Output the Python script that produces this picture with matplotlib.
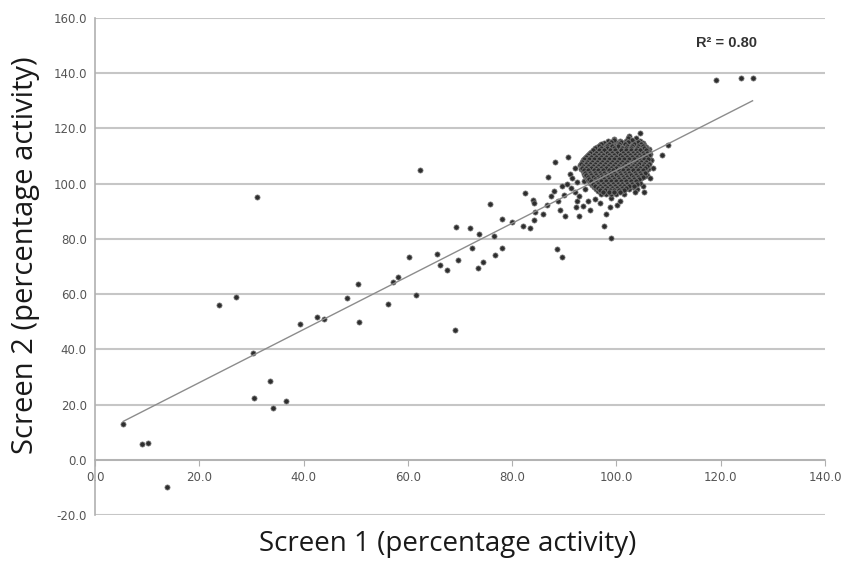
import numpy as np
import matplotlib
matplotlib.use("Agg")
import matplotlib.pyplot as plt

# scattered compounds outside the main cluster (screen 1, screen 2)
outlier_x = [5.4, 9.1, 10.1, 13.8, 23.7, 27.1, 30.3, 30.5, 31.1, 33.6, 34.1, 36.6,
             39.4, 42.5, 43.9, 48.3, 50.4, 50.7, 56.2, 57.2, 58.2, 60.3, 61.5, 62.3,
             65.5, 66.1, 67.5, 69.3, 69.1, 69.6, 72.0, 72.3, 73.5, 73.6, 74.5, 75.7,
             76.7, 76.6, 78.0, 78.0, 80.0, 82.1, 82.4, 83.4, 83.9, 84.2, 84.1, 84.4,
             86.0, 86.6, 86.8, 88.2, 88.6, 89.5, 89.1, 90.2, 90.7, 92.8, 92.4, 94.9,
             97.7, 97.9, 98.9, 98.7, 100.1, 105.2, 104.0, 105.8, 106.7, 108.8, 109.9,
             104.6, 119.0, 123.9, 126.1]
outlier_y = [12.8, 5.7, 6.1, -9.8, 56.0, 58.9, 38.5, 22.5, 95.1, 28.4, 18.8, 21.4,
             49.0, 51.6, 51.0, 58.5, 63.6, 50.0, 56.5, 64.5, 66.3, 73.6, 59.5, 104.8,
             74.6, 70.6, 68.7, 84.3, 46.9, 72.2, 83.8, 76.7, 69.4, 81.6, 71.8, 92.6,
             74.2, 81.0, 87.2, 76.7, 86.0, 84.8, 96.6, 83.8, 93.9, 92.9, 86.7, 89.9,
             89.0, 92.1, 102.5, 108.0, 76.4, 73.4, 90.4, 88.2, 109.5, 88.2, 93.7, 90.5,
             84.8, 89.0, 80.2, 91.6, 92.4, 97.0, 98.0, 103.0, 108.7, 110.2, 113.9,
             118.5, 137.6, 138.1, 138.3]

# points on the edge of the cluster
fringe_x = [91.3, 92.0, 92.5, 91.0, 90.0, 89.5, 88.0, 92.8, 93.5, 94.5, 95.8, 96.8,
            99.0, 101.5, 103.6, 100.6, 92.0, 91.5, 90.6, 87.5, 88.7, 104.5, 106.3,
            107.0, 106.5, 92.3, 93.8, 95.1, 97.3, 99.6, 102.4, 105.0, 96.2, 94.0]
fringe_y = [98.5, 97.0, 100.5, 103.5, 96.0, 99.0, 97.5, 95.5, 92.0, 93.8, 94.5, 93.0,
            94.8, 96.2, 96.9, 93.8, 105.5, 102.0, 100.0, 95.5, 93.8, 114.0, 112.5,
            105.5, 102.0, 91.5, 100.8, 108.9, 113.1, 116.2, 117.1, 99.2, 110.3, 97.9]

# dense cluster, one row of screen-1 values per screen-2 level
cluster_rows = {
    116.5: [102.3, 103.8],
    115.5: [98.4, 100.6, 101.9, 103.1, 104.5],
    114.8: [97.6, 99.2, 100.1, 101.4, 102.6, 103.7, 105.1],
    114.0: [96.9, 98.1, 99.6, 100.8, 101.9, 102.9, 104.2, 105.3],
    113.2: [96.3, 97.4, 98.7, 99.8, 100.6, 101.5, 102.4, 103.5, 104.6, 105.6],
    112.4: [95.8, 96.9, 97.9, 99.0, 100.2, 101.1, 102.0, 103.0, 104.0, 104.9, 105.8],
    111.6: [95.2, 96.3, 97.3, 98.4, 99.4, 100.5, 101.6, 102.5, 103.4, 104.4, 105.3, 106.2],
    110.8: [94.7, 95.8, 96.8, 97.7, 98.9, 99.9, 100.9, 101.9, 102.9, 103.8, 104.7, 105.6, 106.4],
    110.0: [94.3, 95.4, 96.4, 97.3, 98.2, 99.3, 100.3, 101.3, 102.3, 103.3, 104.1, 105.0, 106.0],
    109.2: [93.9, 94.9, 95.9, 96.8, 97.9, 98.8, 99.7, 100.7, 101.7, 102.7, 103.6, 104.5, 105.4, 106.3],
    108.4: [93.6, 94.6, 95.5, 96.5, 97.4, 98.4, 99.4, 100.3, 101.2, 102.2, 103.1, 104.0, 104.9, 105.8, 106.6],
    107.6: [93.3, 94.2, 95.2, 96.1, 97.0, 98.0, 99.0, 99.9, 100.8, 101.8, 102.8, 103.7, 104.6, 105.5, 106.3],
    106.8: [93.1, 94.0, 94.9, 95.8, 96.7, 97.6, 98.6, 99.5, 100.5, 101.4, 102.4, 103.3, 104.2, 105.1, 106.0],
    106.0: [93.4, 94.3, 95.3, 96.2, 97.2, 98.1, 99.1, 100.1, 101.0, 101.9, 102.9, 103.8, 104.8, 105.7],
    105.2: [93.2, 94.1, 95.0, 95.9, 96.9, 97.8, 98.7, 99.7, 100.6, 101.6, 102.5, 103.5, 104.4, 105.3, 106.1],
    104.4: [93.5, 94.4, 95.4, 96.3, 97.3, 98.2, 99.2, 100.2, 101.1, 102.1, 103.0, 104.0, 104.9, 105.6],
    103.6: [93.8, 94.7, 95.6, 96.6, 97.5, 98.5, 99.5, 100.4, 101.4, 102.3, 103.3, 104.3, 105.2],
    102.8: [94.0, 95.0, 95.9, 96.9, 97.8, 98.8, 99.7, 100.7, 101.7, 102.6, 103.6, 104.6, 105.4],
    102.0: [94.3, 95.3, 96.2, 97.1, 98.1, 99.0, 100.0, 101.0, 101.9, 102.9, 103.9, 104.8],
    101.2: [94.6, 95.6, 96.5, 97.4, 98.4, 99.3, 100.3, 101.3, 102.2, 103.2, 104.2],
    100.4: [94.9, 95.9, 96.8, 97.8, 98.7, 99.6, 100.6, 101.5, 102.5, 103.5, 104.5],
    99.6: [95.3, 96.2, 97.2, 98.1, 99.0, 100.0, 100.9, 101.8, 102.8, 103.8],
    98.8: [95.7, 96.6, 97.5, 98.5, 99.4, 100.3, 101.2, 102.1, 103.1],
    98.0: [96.1, 97.0, 98.0, 98.9, 99.8, 100.7, 101.6, 102.5],
    97.2: [96.5, 97.5, 98.4, 99.3, 100.2, 101.1],
    96.3: [97.0, 98.0, 99.0, 99.9],
}

# second, staggered layer of the cluster (fills the gaps between rows)
cluster_rows_b = {
    115.9: [99.5, 102.9],
    115.1: [98.9, 100.9, 102.2, 104.1],
    114.4: [97.1, 98.6, 100.4, 101.7, 103.3, 104.8],
    113.6: [96.6, 98.2, 99.1, 100.2, 102.1, 103.0, 104.1, 105.1],
    112.8: [95.9, 97.1, 98.1, 99.5, 101.0, 101.8, 102.8, 103.9, 105.2],
    112.0: [95.5, 96.6, 97.6, 98.7, 99.7, 100.8, 101.8, 102.8, 103.7, 104.6, 105.6],
    111.2: [94.9, 96.0, 97.0, 98.1, 99.1, 100.1, 101.2, 102.2, 103.1, 104.0, 105.0, 105.9],
    110.4: [94.5, 95.6, 96.6, 97.5, 98.5, 99.6, 100.6, 101.6, 102.6, 103.6, 104.4, 105.3, 106.2],
    109.6: [94.1, 95.1, 96.1, 97.0, 98.0, 99.0, 100.0, 101.0, 102.0, 103.0, 103.9, 104.8, 105.7],
    108.8: [93.8, 94.8, 95.7, 96.7, 97.6, 98.6, 99.5, 100.5, 101.5, 102.4, 103.4, 104.3, 105.2, 106.1],
    108.0: [93.4, 94.4, 95.3, 96.3, 97.2, 98.2, 99.2, 100.1, 101.0, 102.0, 103.0, 103.9, 104.8, 105.7],
    107.2: [93.2, 94.1, 95.0, 95.9, 96.9, 97.8, 98.8, 99.7, 100.7, 101.6, 102.6, 103.5, 104.4, 105.3, 106.2],
    106.4: [93.6, 94.5, 95.5, 96.4, 97.4, 98.4, 99.3, 100.3, 101.2, 102.2, 103.1, 104.0, 105.0, 105.9],
    105.6: [93.3, 94.2, 95.2, 96.1, 97.0, 98.0, 98.9, 99.9, 100.8, 101.8, 102.7, 103.7, 104.6, 105.5],
    104.8: [93.7, 94.6, 95.6, 96.5, 97.5, 98.5, 99.4, 100.4, 101.3, 102.3, 103.2, 104.2, 105.1],
    104.0: [93.9, 94.9, 95.8, 96.8, 97.7, 98.7, 99.6, 100.6, 101.6, 102.5, 103.5, 104.5, 105.4],
    103.2: [94.2, 95.1, 96.1, 97.0, 98.0, 99.0, 99.9, 100.9, 101.8, 102.8, 103.8, 104.7],
    102.4: [94.5, 95.5, 96.4, 97.3, 98.3, 99.2, 100.2, 101.2, 102.1, 103.1, 104.1, 105.0],
    101.6: [94.8, 95.8, 96.7, 97.6, 98.6, 99.5, 100.5, 101.4, 102.4, 103.4, 104.4],
    100.8: [95.1, 96.1, 97.0, 98.0, 98.9, 99.9, 100.8, 101.8, 102.7, 103.7],
    100.0: [95.5, 96.4, 97.4, 98.3, 99.3, 100.2, 101.1, 102.1, 103.0, 104.0],
    99.2: [95.9, 96.9, 97.8, 98.8, 99.7, 100.6, 101.5, 102.4, 103.4],
    98.4: [96.4, 97.3, 98.2, 99.2, 100.1, 101.0, 101.9],
    97.6: [96.8, 97.8, 98.7, 99.6, 100.5, 101.4],
    96.8: [97.4, 98.5, 99.5, 100.6],
}

# linear trend line as drawn in the figure
fit_slope = 0.962
fit_intercept = 8.7
r_squared = 0.80

cluster_x = []
cluster_y = []
for rows in (cluster_rows, cluster_rows_b):
    for yv, xs in rows.items():
        for xv in xs:
            cluster_x.append(xv)
            cluster_y.append(yv)

all_x = np.array(outlier_x + fringe_x + cluster_x)
all_y = np.array(outlier_y + fringe_y + cluster_y)

fig = plt.figure(figsize=(8.43, 5.61), dpi=100)
ax = fig.add_axes([0.1127, 0.082, 0.866, 0.886])

ax.set_xlim(0, 140)
ax.set_ylim(-20, 160)
ax.set_yticks(np.arange(-20, 161, 20))
ax.set_xticks(np.arange(0, 141, 20))
ax.yaxis.grid(True, color="#c6c6c6", linewidth=1.5)
ax.set_axisbelow(True)

for side in ["top", "right"]:
    ax.spines[side].set_visible(False)
ax.spines["left"].set_color("#b0b0b0")
ax.spines["left"].set_linewidth(1.2)
ax.spines["bottom"].set_position(("data", 0))
ax.spines["bottom"].set_color("#b0b0b0")
ax.spines["bottom"].set_linewidth(1.2)

tick_font = ["Liberation Sans Narrow", "DejaVu Sans"]
ax.tick_params(axis="y", length=0, pad=6, labelsize=8.5, labelcolor="#555555")
ax.tick_params(axis="x", length=4, color="#b0b0b0", direction="out",
               pad=4, labelsize=8.5, labelcolor="#555555")
ax.set_xticklabels([f"{v:.1f}" for v in ax.get_xticks()], family=tick_font)
ax.set_yticklabels([f"{v:.1f}" for v in ax.get_yticks()], family=tick_font)

ax.scatter(all_x, all_y, s=14, color="#2e2e2e", edgecolors="#858585",
           linewidths=0.5, zorder=3)

line_x = np.array([all_x.min(), all_x.max()])
ax.plot(line_x, fit_slope * line_x + fit_intercept, color="#8c8c8c",
        linewidth=1.0, zorder=4)

ax.text(115.3, 151, f"R² = {r_squared:.2f}", fontsize=10.5, fontweight="bold",
        family=["Liberation Sans", "DejaVu Sans"], color="#333333",
        va="center", ha="left")

label_font = ["Open Sans", "DejaVu Sans"]
fig.text(0.531, 0.03, "Screen 1 (percentage activity)", fontsize=20,
         family=label_font, color="#1a1a1a", ha="center", va="center")
fig.text(0.03, 0.545, "Screen 2 (percentage activity)", fontsize=21,
         family=label_font, color="#1a1a1a", ha="center", va="center",
         rotation=90)

fig.savefig("out.png", dpi=100)
